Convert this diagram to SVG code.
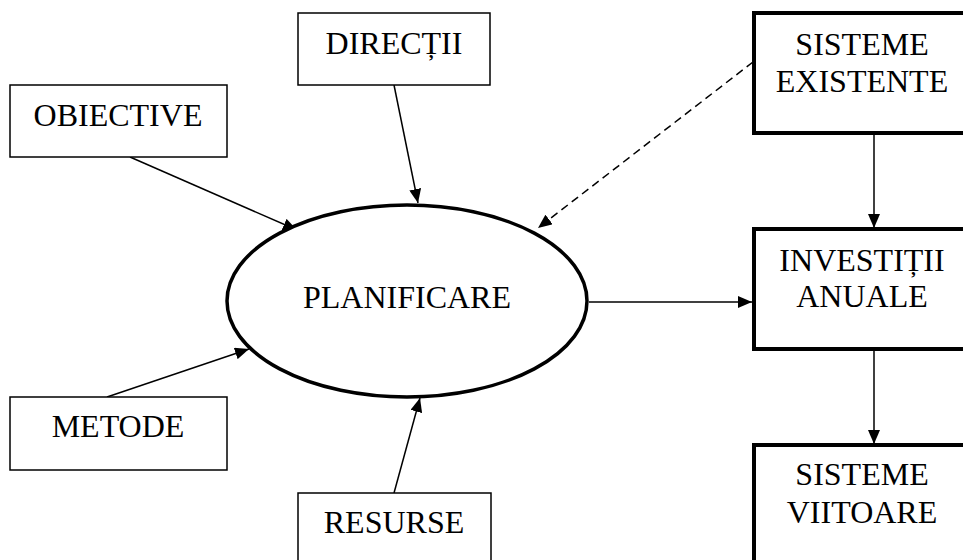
<svg xmlns="http://www.w3.org/2000/svg" width="963" height="560" viewBox="0 0 963 560">
<defs>
<style>
text{font-family:"Liberation Serif","Times New Roman",serif;font-size:32px;fill:#000;text-anchor:middle}
.thin{fill:#fff;stroke:#000;stroke-width:1.5}
.thick{fill:#fff;stroke:#000;stroke-width:4}
.c{fill:none;stroke:#000;stroke-width:1.5}
.d{stroke-dasharray:8 5}
</style>
<marker id="ah" viewBox="0 0 14 12" refX="14" refY="6" markerWidth="14" markerHeight="12" markerUnits="userSpaceOnUse" orient="auto">
<path d="M0,0 L14,6 L0,12 Z" fill="#000"/>
</marker>
</defs>
<rect width="963" height="560" fill="#fff"/>
<g id="connectors">
<line class="c" x1="130" y1="157" x2="297" y2="230" marker-end="url(#ah)"/>
<line class="c" x1="394" y1="85" x2="418" y2="203" marker-end="url(#ah)"/>
<line class="c d" x1="753" y1="62" x2="538" y2="228" marker-end="url(#ah)"/>
<line class="c" x1="107" y1="397" x2="249" y2="349" marker-end="url(#ah)"/>
<line class="c" x1="394" y1="493" x2="420" y2="398" marker-end="url(#ah)"/>
<line class="c" x1="589" y1="302" x2="752" y2="302" marker-end="url(#ah)"/>
<line class="c" x1="874" y1="133" x2="874" y2="228" marker-end="url(#ah)"/>
<line class="c" x1="874" y1="350" x2="874" y2="444" marker-end="url(#ah)"/>
</g>
<g id="obiective"><rect class="thin" x="10" y="85" width="217" height="72"/><text x="118" y="126">OBIECTIVE</text></g>
<g id="directii"><rect class="thin" x="298" y="13" width="192" height="72"/><text x="394" y="54">DIRECȚII</text></g>
<g id="metode"><rect class="thin" x="10" y="397" width="217" height="73"/><text x="118" y="437">METODE</text></g>
<g id="resurse"><rect class="thin" x="298" y="493" width="193" height="80"/><text x="394" y="533">RESURSE</text></g>
<g id="planificare"><ellipse cx="407" cy="301" rx="180" ry="96" fill="#fff" stroke="#000" stroke-width="3.5"/><text x="407" y="308">PLANIFICARE</text></g>
<g id="sisteme-existente"><rect class="thick" x="754" y="13" width="240" height="120"/><text x="862" y="55">SISTEME</text><text x="862" y="92">EXISTENTE</text></g>
<g id="investitii-anuale"><rect class="thick" x="754" y="229" width="240" height="120"/><text x="862" y="271">INVESTIȚII</text><text x="862" y="307">ANUALE</text></g>
<g id="sisteme-viitoare"><rect class="thick" x="754" y="445" width="240" height="125"/><text x="862" y="485">SISTEME</text><text x="862" y="523">VIITOARE</text></g>
</svg>
